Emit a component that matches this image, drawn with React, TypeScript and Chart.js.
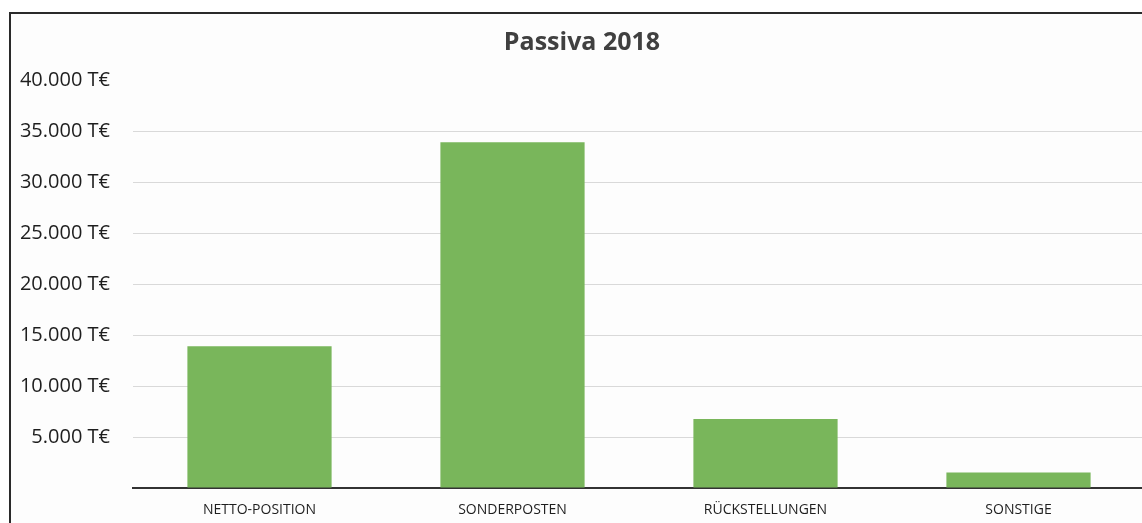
import React, { useEffect, useRef } from "react";
import { Chart, registerables } from "chart.js";

Chart.register(...registerables);

const categories = ["NETTO-POSITION", "SONDERPOSTEN", "RÜCKSTELLUNGEN", "SONSTIGE"];
const values = [13900, 33900, 6760, 1520];
const yTicks = [0, 5000, 10000, 15000, 20000, 25000, 30000, 35000, 40000];
const titleText = "Passiva 2018";

const fmt = (v: number) => {
  if (v === 0) return "";
  const s = String(Math.round(v));
  return s.replace(/\B(?=(\d{3})+(?!\d))/g, ".") + " T€";
};

export default function App() {
  const ref = useRef<HTMLCanvasElement | null>(null);
  useEffect(() => {
    if (!ref.current) return;
    const framePlugin = {
      id: "frameAndTitle",
      beforeDraw(chart: any) {
        const ctx = chart.ctx;
        ctx.save();
        ctx.fillStyle = "#ffffff";
        ctx.fillRect(0, 0, chart.width, chart.height);
        ctx.fillStyle = "#fdfdfd";
        ctx.fillRect(11, 14, chart.width - 11, chart.height - 14);
        ctx.fillStyle = "#2a2a2a";
        ctx.fillRect(9, 12, chart.width - 9, 2);
        ctx.fillRect(9, 12, 2, chart.height - 12);
        ctx.restore();
      },
      afterDraw(chart: any) {
        const ctx = chart.ctx;
        ctx.save();
        ctx.font = 'bold 25px "Open Sans"';
        ctx.fillStyle = "#404040";
        ctx.textAlign = "center";
        ctx.textBaseline = "middle";
        ctx.fillText(titleText, 582, 43);
        ctx.restore();
      },
    };
    const chart = new Chart(ref.current, {
      type: "bar",
      data: {
        labels: categories,
        datasets: [
          {
            data: values,
            backgroundColor: "#79b65b",
            borderWidth: 0,
            barPercentage: 0.57,
            categoryPercentage: 1,
          },
        ],
      },
      options: {
        responsive: false,
        animation: false,
        layout: { padding: { top: 80, right: 5, left: 0, bottom: 0 } },
        plugins: { legend: { display: false }, title: { display: false }, tooltip: { enabled: false } },
        scales: {
          x: {
            grid: { display: false, drawTicks: false },
            border: { display: true, color: "#333333", width: 2 },
            ticks: { color: "#1e1e1e", font: { family: "Open Sans", size: 14 }, padding: 14, maxRotation: 0 },
            afterFit: (s: any) => {
              s.height = 30;
            },
          },
          y: {
            min: 0,
            max: 40000,
            afterBuildTicks: (s: any) => {
              s.ticks = yTicks.map((v) => ({ value: v }));
            },
            grid: {
              drawTicks: false,
              color: (c: any) => (c.tick && (c.tick.value === 40000 || c.tick.value === 0) ? "rgba(0,0,0,0)" : "#d9d9d9"),
              lineWidth: 1,
            },
            border: { display: false },
            ticks: {
              color: "#1e1e1e",
              font: { family: "Open Sans", size: 20 },
              padding: 23,
              callback: (v: any) => fmt(Number(v)),
            },
            afterFit: (s: any) => {
              s.width = 133;
            },
          },
        },
      },
      plugins: [framePlugin],
    });
    return () => chart.destroy();
  }, []);
  return (
    <div style={{ position: "absolute", left: 0, top: 0, width: 1142, height: 523, overflow: "hidden" }}>
      <canvas ref={ref} width={1150} height={523} style={{ position: "absolute", left: 0, top: 0, display: "block" }} />
    </div>
  );
}
